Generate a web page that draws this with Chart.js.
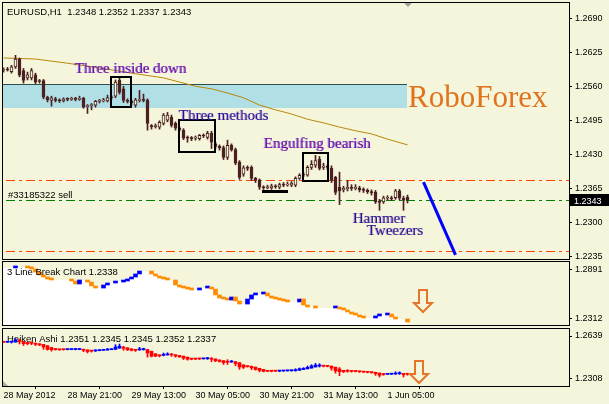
<!DOCTYPE html>
<html lang="en">
<head>
<meta charset="UTF-8">
<title>EURUSD H1</title>
<script src="https://cdn.jsdelivr.net/npm/chart.js"></script>
<style>
  body { margin: 0; background: #f5f5dc; width: 609px; height: 404px; overflow: hidden; position: relative; }
  canvas { position: absolute; left: 0; }
</style>
</head>
<body>
<canvas id="main" width="609" height="261" style="top:0"></canvas>
<canvas id="lb" width="609" height="66" style="top:261px"></canvas>
<canvas id="ha" width="609" height="77" style="top:327px"></canvas>
<script>
// hourly candles, 28 May 2012 00:00 .. 1 Jun 05:00
const openP  = [1.2590,1.2592,1.2588,1.2597,1.2612,1.2590,1.2576,1.2576,1.2582,1.2570,1.2571,1.2539,1.2533,1.2536,1.2533,1.2532,1.2535,1.2535,1.2536,1.2535,
                1.2537,1.2521,1.2523,1.2524,1.2531,1.2532,1.2532,1.2538,1.2541,1.2572,1.2555,1.2533,1.2531,1.2524,1.2533,1.2535,1.2533,1.2485,1.2483,1.2482,
                1.2489,1.2495,1.2501,1.2489,1.2480,1.2476,1.2462,1.2461,1.2461,1.2460,1.2466,1.2462,1.2470,1.2450,1.2445,1.2443,1.2424,1.2447,1.2439,1.2415,
                1.2392,1.2404,1.2405,1.2384,1.2381,1.2367,1.2366,1.2366,1.2369,1.2367,1.2372,1.2371,1.2371,1.2371,1.2384,1.2390,1.2390,1.2405,1.2409,1.2421,
                1.2405,1.2406,1.2403,1.2386,1.2367,1.2362,1.2364,1.2367,1.2365,1.2366,1.2362,1.2361,1.2359,1.2358,1.2340,1.2339,1.2346,1.2347,1.2347,1.2360,
                1.2346,1.2348];
const highP  = [1.2595,1.2596,1.2600,1.2619,1.2614,1.2594,1.2587,1.2594,1.2585,1.2573,1.2573,1.2541,1.2541,1.2539,1.2536,1.2538,1.2538,1.2539,1.2539,1.2541,
                1.2539,1.2525,1.2527,1.2533,1.2535,1.2537,1.2543,1.2542,1.2572,1.2577,1.2560,1.2536,1.2534,1.2537,1.2552,1.2545,1.2536,1.2487,1.2488,1.2494,
                1.2508,1.2510,1.2505,1.2492,1.2483,1.2479,1.2465,1.2464,1.2465,1.2468,1.2469,1.2474,1.2474,1.2453,1.2448,1.2446,1.2457,1.2450,1.2442,1.2418,
                1.2408,1.2408,1.2408,1.2386,1.2383,1.2370,1.2371,1.2373,1.2372,1.2375,1.2376,1.2377,1.2378,1.2387,1.2393,1.2395,1.2408,1.2418,1.2428,1.2426,
                1.2413,1.2410,1.2408,1.2388,1.2396,1.2369,1.2380,1.2372,1.2372,1.2369,1.2366,1.2364,1.2362,1.2361,1.2344,1.2350,1.2351,1.2350,1.2363,1.2363,
                1.2350,1.2352];
const lowP   = [1.2587,1.2589,1.2585,1.2594,1.2578,1.2566,1.2572,1.2572,1.2565,1.2566,1.2536,1.2530,1.2522,1.2530,1.2529,1.2530,1.2532,1.2533,1.2532,1.2533,
                1.2518,1.2508,1.2515,1.2520,1.2528,1.2530,1.2530,1.2535,1.2538,1.2545,1.2529,1.2528,1.2524,1.2520,1.2530,1.2530,1.2476,1.2478,1.2480,1.2478,
                1.2486,1.2492,1.2482,1.2476,1.2474,1.2458,1.2453,1.2456,1.2457,1.2457,1.2462,1.2459,1.2441,1.2441,1.2438,1.2420,1.2420,1.2436,1.2410,1.2382,
                1.2388,1.2399,1.2380,1.2376,1.2363,1.2363,1.2364,1.2363,1.2365,1.2364,1.2368,1.2369,1.2368,1.2368,1.2382,1.2387,1.2388,1.2401,1.2405,1.2400,
                1.2401,1.2401,1.2376,1.2353,1.2334,1.2358,1.2360,1.2361,1.2362,1.2358,1.2357,1.2355,1.2352,1.2336,1.2323,1.2336,1.2343,1.2342,1.2344,1.2343,
                1.2323,1.2337];
const closeP = [1.2592,1.2591,1.2597,1.2612,1.2581,1.2571,1.2582,1.2590,1.2568,1.2569,1.2539,1.2534,1.2538,1.2533,1.2532,1.2536,1.2535,1.2536,1.2535,1.2537,
                1.2520,1.2523,1.2525,1.2531,1.2532,1.2533,1.2538,1.2540,1.2568,1.2548,1.2533,1.2531,1.2528,1.2534,1.2535,1.2533,1.2489,1.2483,1.2485,1.2491,
                1.2505,1.2505,1.2485,1.2480,1.2477,1.2461,1.2461,1.2460,1.2462,1.2466,1.2465,1.2470,1.2453,1.2445,1.2442,1.2424,1.2447,1.2439,1.2413,1.2386,
                1.2404,1.2403,1.2384,1.2380,1.2367,1.2366,1.2368,1.2370,1.2368,1.2372,1.2371,1.2373,1.2375,1.2384,1.2390,1.2391,1.2405,1.2411,1.2418,1.2403,
                1.2408,1.2405,1.2380,1.2357,1.2360,1.2365,1.2367,1.2365,1.2367,1.2362,1.2361,1.2358,1.2356,1.2339,1.2338,1.2347,1.2347,1.2345,1.2360,1.2346,
                1.2342,1.2343];

// moving average (sampled bars)
const maIdx = [0, 8, 16, 24, 32, 40, 44, 48, 52, 54, 56, 60, 64, 68, 72, 76, 80, 84, 88, 92, 96, 101];
const maVal = [1.2614,1.2612,1.2604,1.2595,1.2585,1.2576,1.2568,1.2560,1.2555,1.2551,1.2547,1.2538,1.2524,1.2515,1.2507,1.2497,1.2490,1.2482,1.2475,1.2469,1.2459,1.2448];

// 3 line break level per bar
const lineBreak = [1.2915,1.2915,1.2915,1.2926,1.2926,1.2926,1.2915,1.2903,1.2867,1.2832,1.2808,1.2785,1.2773,1.2773,1.2773,1.2773,1.2773,1.2761,1.2726,1.2773,
                   1.2773,1.2749,1.2702,1.2678,1.2678,1.2714,1.2737,1.2737,1.2749,1.2749,1.2761,1.2785,1.2808,1.2844,1.2879,1.2879,1.2879,1.2844,1.2820,1.2796,
                   1.2785,1.2773,1.2773,1.2714,1.2690,1.2678,1.2666,1.2655,1.2655,1.2678,1.2678,1.2690,1.2666,1.2596,1.2560,1.2548,1.2536,1.2572,1.2525,1.2489,
                   1.2489,1.2548,1.2596,1.2607,1.2607,1.2619,1.2584,1.2560,1.2548,1.2536,1.2525,1.2513,1.2513,1.2513,1.2548,1.2477,1.2454,1.2454,1.2442,1.2442,
                   1.2442,1.2442,1.2442,1.2454,1.2430,1.2419,1.2395,1.2371,1.2359,1.2336,1.2324,1.2324,1.2324,1.2348,1.2359,1.2359,1.2371,1.2336,1.2312,1.2312,
                   1.2312,1.2277];

const priceTicks = [1.2690, 1.2625, 1.2560, 1.2495, 1.2430, 1.2365, 1.2300, 1.2235];
const lbTicks = [1.2891, 1.2312];
const haTicks = [1.2639, 1.2308];
const timeIdx = [0, 16, 32, 48, 64, 80, 96];
const timeLabels = ['28 May 2012', '28 May 21:00', '29 May 13:00', '30 May 05:00', '30 May 21:00', '31 May 13:00', '1 Jun 05:00'];

const levelVals = [1.2380, 1.2342, 1.2245];
const levelColors = ['#ff4500', '#008000', '#ff4500'];
const trendX = [105, 113];
const trendY = [1.2377, 1.2238];
const lastPrice = 1.2343;

const BG = '#f5f5dc';
const CANDLE = '#4b2020';
const X_MIN = -0.125, X_MAX = 141.375;
const FONT = "'Liberation Sans', Arial, sans-serif";
const SERIF = "'Liberation Serif', 'Times New Roman', serif";
const N = openP.length;
const idx = openP.map((_, i) => i);

function xAxis(show) {
  return {
    type: 'linear', min: X_MIN, max: X_MAX, offset: false, display: show,
    afterBuildTicks: s => { s.ticks = timeIdx.map(v => ({ value: v })); },
    afterFit: s => {
      s.paddingLeft = 0; s.paddingRight = 0;
      if (show) s.height = 18;
    },
    grid: { drawOnChartArea: false, drawTicks: true, tickLength: 3, color: '#000' },
    border: { display: false },
    ticks: {
      autoSkip: false, maxRotation: 0, align: 'start', padding: 1, color: '#000',
      font: { family: FONT, size: 9 },
      callback: v => timeLabels[timeIdx.indexOf(v)]
    }
  };
}

function yAxis(min, max, tickVals) {
  return {
    position: 'right', min, max,
    afterBuildTicks: s => { s.ticks = tickVals.map(v => ({ value: v })); },
    afterFit: s => { s.width = 40; s.paddingTop = 0; s.paddingBottom = 0; },
    grid: { drawOnChartArea: false, drawTicks: true, tickLength: 3, color: '#000' },
    border: { display: false },
    ticks: { padding: 3, color: '#000', font: { family: FONT, size: 9 }, callback: v => v.toFixed(4) }
  };
}

const frame = {
  id: 'frame',
  afterDraw(chart) {
    const { ctx, chartArea: a } = chart;
    ctx.save();
    ctx.strokeStyle = '#000';
    ctx.lineWidth = 1;
    ctx.strokeRect(a.left - 0.5, a.top - 0.5, a.right - a.left + 1, a.bottom - a.top + 1);
    ctx.restore();
  }
};

function label(ctx, text, x, y, size, color) {
  ctx.font = size + 'px ' + FONT;
  ctx.fillStyle = color || '#000';
  ctx.textAlign = 'left';
  ctx.textBaseline = 'alphabetic';
  ctx.fillText(text, x, y);
}

function drawArrow(chart, a) {
  const { ctx, scales } = chart;
  const cx = Math.round(scales.x.getPixelForValue(a.x));
  const top = Math.round(scales.y.getPixelForValue(a.top));
  const tip = Math.round(scales.y.getPixelForValue(a.tip));
  const neck = Math.round(top + (tip - top) * 0.6);
  ctx.save();
  ctx.strokeStyle = '#e2762a';
  ctx.lineWidth = 2;
  ctx.beginPath();
  ctx.moveTo(cx - 4, top);
  ctx.lineTo(cx + 4, top);
  ctx.lineTo(cx + 4, neck);
  ctx.lineTo(cx + 9, neck);
  ctx.lineTo(cx, tip);
  ctx.lineTo(cx - 9, neck);
  ctx.lineTo(cx - 4, neck);
  ctx.closePath();
  ctx.stroke();
  ctx.restore();
}

// ---------- main price panel ----------
const zone = { x0: X_MIN, x1: 100.9, top: 1.25643, bottom: 1.25185 };
const boxes = [
  { x0: 26.8, x1: 31.9, top: 1.25782, bottom: 1.25198 },
  { x0: 43.9, x1: 52.9, top: 1.24955, bottom: 1.24338 },
  { x0: 74.8, x1: 81.0, top: 1.24319, bottom: 1.23796 }
];
const bar = { x0: 64.6, x1: 71.1, top: 1.23618, bottom: 1.23561 };
const notes = [
  { text: 'Three inside down', x: 17.9, y: 1.2585, main: '#7c10a0', shade: '#3030e0' },
  { text: 'Three methods', x: 43.9, y: 1.2496, main: '#1c1c96', shade: '#9a30c0' },
  { text: 'Engulfing bearish', x: 65.1, y: 1.2442, main: '#7c10a0', shade: '#3030e0' },
  { text: 'Hammer', x: 87.4, y: 1.2299, main: '#1c1c8c', shade: '#9a30c0' },
  { text: 'Tweezers', x: 90.9, y: 1.2276, main: '#1c1c8c', shade: '#9a30c0' }
];

const mainDecor = {
  id: 'mainDecor',
  beforeDatasetsDraw(chart) {
    const { ctx, scales: { x, y }, chartArea } = chart;
    const l = x.getPixelForValue(zone.x0), r = Math.round(x.getPixelForValue(zone.x1));
    const t = Math.round(y.getPixelForValue(zone.top)), b = Math.round(y.getPixelForValue(zone.bottom));
    ctx.save();
    ctx.fillStyle = '#b0e0e6';
    ctx.fillRect(l, t, r - l, b - t);
    ctx.strokeStyle = '#2f4f4f';
    ctx.lineWidth = 1;
    ctx.beginPath();
    ctx.moveTo(l, t + 0.5);
    ctx.lineTo(r, t + 0.5);
    ctx.stroke();
    // horizontal order levels
    ctx.setLineDash([9, 4, 3, 4]);
    levelVals.forEach((v, k) => {
      const py = Math.round(y.getPixelForValue(v)) + 0.5;
      ctx.strokeStyle = levelColors[k];
      ctx.beginPath();
      ctx.moveTo(chartArea.left + 3, py);
      ctx.lineTo(chartArea.right, py);
      ctx.stroke();
    });
    ctx.restore();
  },
  afterDatasetsDraw(chart) {
    const { ctx, scales: { x, y }, chartArea } = chart;
    ctx.save();
    ctx.strokeStyle = '#000';
    ctx.lineWidth = 2;
    boxes.forEach(bx => {
      const l = Math.round(x.getPixelForValue(bx.x0)), r = Math.round(x.getPixelForValue(bx.x1));
      const t = Math.round(y.getPixelForValue(bx.top)), b = Math.round(y.getPixelForValue(bx.bottom));
      ctx.strokeRect(l, t, r - l, b - t);
    });
    const bl = Math.round(x.getPixelForValue(bar.x0)), br = Math.round(x.getPixelForValue(bar.x1));
    const bt = Math.round(y.getPixelForValue(bar.top));
    ctx.fillStyle = '#000';
    ctx.fillRect(bl, bt, br - bl, 3);

    ctx.font = '15px ' + SERIF;
    ctx.textBaseline = 'alphabetic';
    notes.forEach(n => {
      const px = Math.round(x.getPixelForValue(n.x)), py = Math.round(y.getPixelForValue(n.y));
      ctx.globalAlpha = 0.55;
      ctx.fillStyle = n.shade;
      ctx.fillText(n.text, px - 1, py);
      ctx.globalAlpha = 1;
      ctx.fillStyle = n.main;
      ctx.fillText(n.text, px, py);
    });
    ctx.font = '31px ' + SERIF;
    ctx.fillStyle = '#e0731e';
    ctx.fillText('RoboForex', Math.round(x.getPixelForValue(101.1)), Math.round(y.getPixelForValue(1.2520)));

    label(ctx, '#33185322 sell', chartArea.left + 5, Math.round(y.getPixelForValue(levelVals[1])) - 2, 9.5);
    label(ctx, 'EURUSD,H1  1.2348 1.2352 1.2337 1.2343', chartArea.left + 4, chartArea.top + 12, 9.5);

    // chart shift marker
    const sx = Math.round(x.getPixelForValue(101.2));
    ctx.fillStyle = '#a0a0a0';
    ctx.beginPath();
    ctx.moveTo(sx - 4, chartArea.top);
    ctx.lineTo(sx + 4, chartArea.top);
    ctx.lineTo(sx, chartArea.top + 4);
    ctx.closePath();
    ctx.fill();
    ctx.restore();
  },
  afterDraw(chart) {
    const { ctx, scales: { y }, chartArea } = chart;
    const py = Math.round(y.getPixelForValue(lastPrice));
    ctx.save();
    ctx.fillStyle = '#000';
    ctx.fillRect(chartArea.right + 1, py - 6, 40, 12);
    label(ctx, lastPrice.toFixed(4), chartArea.right + 5, py + 4, 9, '#fff');
    ctx.restore();
  }
};

new Chart(document.getElementById('main'), {
  type: 'bar',
  data: {
    datasets: [
      { type: 'line', data: trendX.map((v, k) => ({ x: v, y: trendY[k] })), borderColor: '#0000ff', borderWidth: 3, pointRadius: 0, order: 0 },
      {
        data: idx.map(i => ({ x: i, y: [Math.min(openP[i], closeP[i]), Math.max(openP[i], closeP[i])] })),
        backgroundColor: idx.map(i => closeP[i] > openP[i] ? BG : CANDLE),
        borderColor: CANDLE, borderWidth: 1, borderSkipped: false,
        barThickness: 3, minBarLength: 1, grouped: false, order: 1
      },
      {
        data: idx.map(i => ({ x: i, y: [lowP[i], highP[i]] })),
        backgroundColor: CANDLE, barThickness: 1, grouped: false, order: 2
      },
      { type: 'line', data: maIdx.map((v, k) => ({ x: v, y: maVal[k] })), borderColor: '#b8860b', borderWidth: 1, pointRadius: 0, order: 3 }
    ]
  },
  options: {
    responsive: false, animation: false, events: [],
    layout: { padding: { left: 3, top: 3, bottom: 2, right: 0 } },
    plugins: { legend: { display: false }, tooltip: { enabled: false } },
    scales: { x: xAxis(false), y: yAxis(1.2230, 1.2719, priceTicks) }
  },
  plugins: [mainDecor, frame]
});

// ---------- 3 line break panel ----------
const brickData = [], brickColors = [];
for (let i = 1; i < N; i++) {
  if (lineBreak[i] !== lineBreak[i - 1]) {
    brickData.push({ x: i, y: [lineBreak[i - 1], lineBreak[i]] });
    brickColors.push(lineBreak[i] > lineBreak[i - 1] ? '#0000ff' : '#ff8c00');
  }
}

new Chart(document.getElementById('lb'), {
  type: 'bar',
  data: {
    datasets: [
      { data: brickData, backgroundColor: brickColors, barThickness: 4, minBarLength: 2, grouped: false, order: 1 },
      {
        type: 'line', data: lineBreak.map((v, i) => ({ x: i, y: v })),
        fill: 'start', backgroundColor: '#ffffff', borderWidth: 0, borderColor: 'rgba(0,0,0,0)',
        pointRadius: 0, stepped: 'middle', order: 2
      }
    ]
  },
  options: {
    responsive: false, animation: false, events: [],
    layout: { padding: { left: 3, top: 1, bottom: 2, right: 0 } },
    plugins: { legend: { display: false }, tooltip: { enabled: false } },
    scales: { x: xAxis(false), y: yAxis(1.22411, 1.29855, lbTicks) }
  },
  plugins: [{
    id: 'lbDecor',
    afterDatasetsDraw(chart) {
      const { ctx, chartArea } = chart;
      label(ctx, '3 Line Break Chart 1.2338', chartArea.left + 4, chartArea.top + 13, 9.5);
      drawArrow(chart, { x: 104.9, top: 1.2655, tip: 1.2395 });
    }
  }, frame]
});

// ---------- Heiken Ashi panel ----------
const haO = [], haC = [], haH = [], haL = [];
for (let i = 0; i < N; i++) {
  const c = (openP[i] + highP[i] + lowP[i] + closeP[i]) / 4;
  const o = i === 0 ? (openP[0] + closeP[0]) / 2 : (haO[i - 1] + haC[i - 1]) / 2;
  haO.push(o);
  haC.push(c);
  haH.push(Math.max(highP[i], o, c));
  haL.push(Math.min(lowP[i], o, c));
}
const haColor = idx.map(i => haC[i] >= haO[i] ? '#0000ff' : '#ff0000');

new Chart(document.getElementById('ha'), {
  type: 'bar',
  data: {
    datasets: [
      {
        data: idx.map(i => ({ x: i, y: [Math.min(haO[i], haC[i]), Math.max(haO[i], haC[i])] })),
        backgroundColor: haColor, barThickness: 3, minBarLength: 1, grouped: false, order: 1
      },
      {
        data: idx.map(i => ({ x: i, y: [haL[i], haH[i]] })),
        backgroundColor: haColor, barThickness: 1, grouped: false, order: 2
      }
    ]
  },
  options: {
    responsive: false, animation: false, events: [],
    layout: { padding: { left: 3, top: 2, bottom: 0, right: 0 } },
    plugins: { legend: { display: false }, tooltip: { enabled: false } },
    scales: { x: xAxis(true), y: yAxis(1.22541, 1.26929, haTicks) }
  },
  plugins: [{
    id: 'haDecor',
    beforeDatasetsDraw(chart) {
      const { ctx, chartArea } = chart;
      label(ctx, 'Heiken Ashi 1.2351 1.2345 1.2345 1.2352 1.2337', chartArea.left + 4, chartArea.top + 13, 9.5);
    },
    afterDatasetsDraw(chart) {
      const { ctx, chartArea: a } = chart;
      drawArrow(chart, { x: 103.9, top: 1.24465, tip: 1.22771 });
      // corner marker
      ctx.save();
      ctx.fillStyle = '#a8a8a8';
      ctx.beginPath();
      ctx.moveTo(a.left, a.bottom);
      ctx.lineTo(a.left, a.bottom - 5);
      ctx.lineTo(a.left + 5, a.bottom);
      ctx.closePath();
      ctx.fill();
      ctx.restore();
    }
  }, frame]
});
</script>
</body>
</html>
